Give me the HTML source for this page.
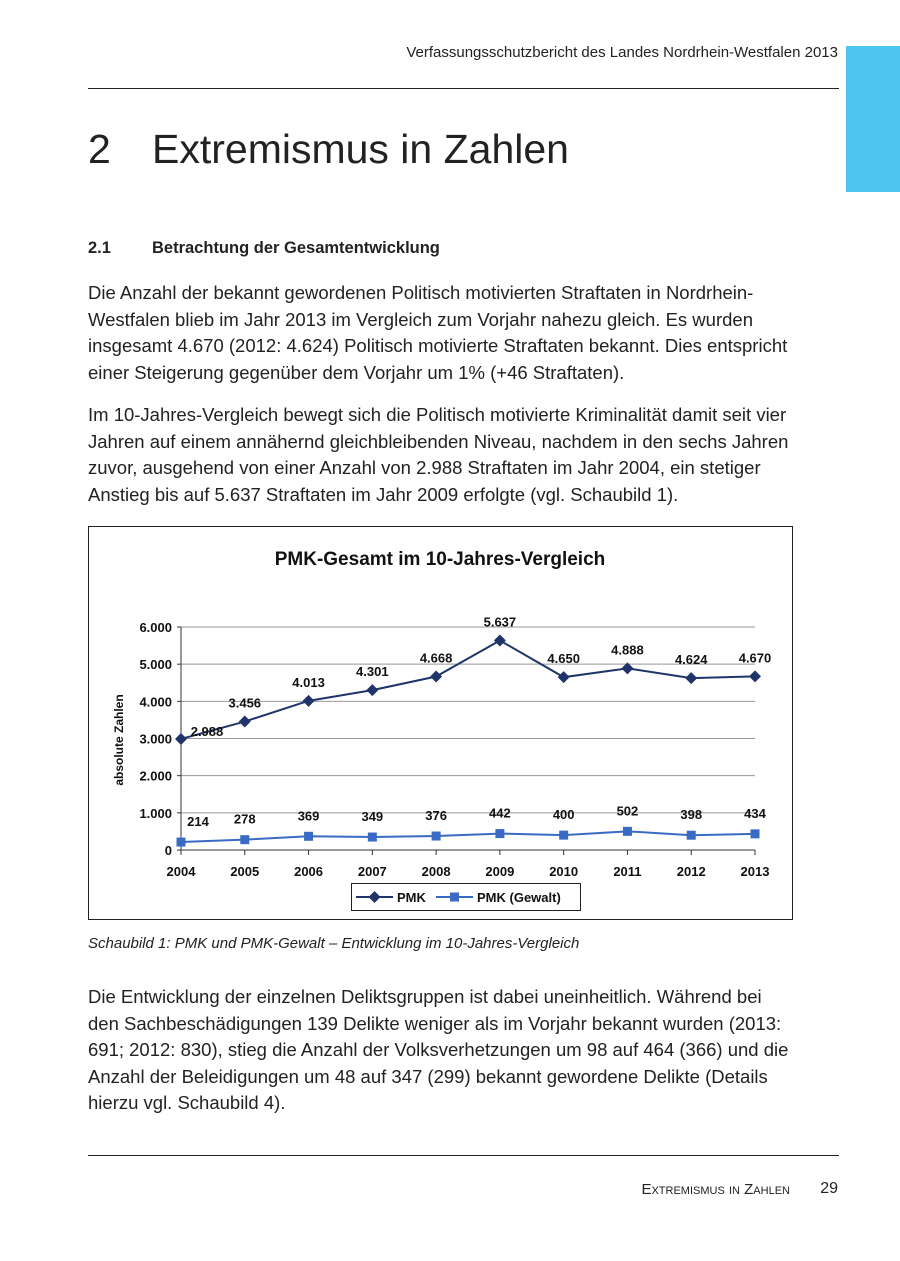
<!DOCTYPE html>
<html><head><meta charset="utf-8"><style>
body{margin:0;width:900px;height:1261px;background:#fff;font-family:"Liberation Sans",sans-serif;color:#222;position:relative;overflow:hidden}
.a{position:absolute;margin:0}
.p{position:absolute;margin:0;left:88px;width:760px;font-size:18.5px;line-height:26.5px;white-space:nowrap}
</style></head><body>
<div class="a" style="right:62px;top:44px;font-size:15px">Verfassungsschutzbericht des Landes Nordrhein-Westfalen 2013</div>
<div class="a" style="left:88px;top:88px;width:751px;height:1px;background:#222"></div>
<div class="a" style="left:846px;top:46px;width:54px;height:146px;background:#4cc5f0"></div>
<div class="a" style="left:88px;top:126px;font-size:41px">2<span style="position:absolute;left:64px;white-space:nowrap">Extremismus in Zahlen</span></div>
<div class="a" style="left:88px;top:239px;font-size:16.5px;font-weight:bold">2.1<span style="position:absolute;left:64px;white-space:nowrap">Betrachtung der Gesamtentwicklung</span></div>
<p class="p" style="top:280px">Die Anzahl der bekannt gewordenen Politisch motivierten Straftaten in Nordrhein-<br>Westfalen blieb im Jahr 2013 im Vergleich zum Vorjahr nahezu gleich. Es wurden<br>insgesamt 4.670 (2012: 4.624) Politisch motivierte Straftaten bekannt. Dies entspricht<br>einer Steigerung gegenüber dem Vorjahr um 1% (+46 Straftaten).</p>
<p class="p" style="top:402px">Im 10-Jahres-Vergleich bewegt sich die Politisch motivierte Kriminalität damit seit vier<br>Jahren auf einem annähernd gleichbleibenden Niveau, nachdem in den sechs Jahren<br>zuvor, ausgehend von einer Anzahl von 2.988 Straftaten im Jahr 2004, ein stetiger<br>Anstieg bis auf 5.637 Straftaten im Jahr 2009 erfolgte (vgl. Schaubild 1).</p>
<svg class="a" style="left:0;top:0" width="900" height="1261" id="chart"></svg>
<div class="a" style="left:88px;top:935px;font-size:15px;font-style:italic">Schaubild 1: PMK und PMK-Gewalt – Entwicklung im 10-Jahres-Vergleich</div>
<p class="p" style="top:984px">Die Entwicklung der einzelnen Deliktsgruppen ist dabei uneinheitlich. Während bei<br>den Sachbeschädigungen 139 Delikte weniger als im Vorjahr bekannt wurden (2013:<br>691; 2012: 830), stieg die Anzahl der Volksverhetzungen um 98 auf 464 (366) und die<br>Anzahl der Beleidigungen um 48 auf 347 (299) bekannt gewordene Delikte (Details<br>hierzu vgl. Schaubild 4).</p>
<div class="a" style="left:88px;top:1155px;width:751px;height:1px;background:#222"></div>
<div class="a" style="right:110px;top:1181px;font-size:15px;font-variant:small-caps">Extremismus in Zahlen</div>
<div class="a" style="right:62px;top:1180px;font-size:16px">29</div>
<script>
const years=['2004','2005','2006','2007','2008','2009','2010','2011','2012','2013'];
const pmk=[2988,3456,4013,4301,4668,5637,4650,4888,4624,4670];
const gewalt=[214,278,369,349,376,442,400,502,398,434];
const yTicks=[0,1000,2000,3000,4000,5000,6000];
const NS='http://www.w3.org/2000/svg';
const svg=document.getElementById('chart');
const x0=181,x1=755,y0=850,y6=627;
const X=i=>x0+(x1-x0)*i/(years.length-1);
const Y=v=>y0-(y0-y6)*v/6000;
const fmt=v=>v>=1000?Math.floor(v/1000)+'.'+String(v%1000).padStart(3,'0'):String(v);
function el(t,a,txt){const e=document.createElementNS(NS,t);for(const k in a)e.setAttribute(k,a[k]);if(txt!=null)e.textContent=txt;svg.appendChild(e);return e;}
let e;
e=el('rect',{x:88.5,y:526.5,width:704,height:393,fill:'none',stroke:'#222'});


e=el('text',{x:440,y:565,'text-anchor':'middle','font-size':19,'font-weight':'bold',fill:'#111'},'PMK-Gesamt im 10-Jahres-Vergleich');


yTicks.forEach(v=>{
 if(v>0){e=el('line',{x1:x0,x2:x1,y1:Y(v),y2:Y(v),stroke:'#999'});
 
 }
 e=el('line',{x1:x0-4,x2:x0,y1:Y(v),y2:Y(v),stroke:'#333'});
 e=el('text',{x:x0-9,y:Y(v)+5,'text-anchor':'end','font-size':13,'font-weight':'bold',fill:'#111'},fmt(v));
 
 
});
el('line',{x1:x0,x2:x0,y1:y6,y2:y0,stroke:'#333'});
el('line',{x1:x0,x2:x1,y1:y0,y2:y0,stroke:'#333'});
e=el('text',{x:0,y:0,transform:'translate(123,740) rotate(-90)','text-anchor':'middle','font-size':12,'font-weight':'bold',fill:'#111'},'absolute Zahlen');


years.forEach((y,i)=>{
 el('line',{x1:X(i),x2:X(i),y1:y0,y2:y0+5,stroke:'#333'});
 e=el('text',{x:X(i),y:876,'text-anchor':'middle','font-size':13,'font-weight':'bold',fill:'#111'},y);
 
 
});
e=el('polyline',{points:pmk.map((v,i)=>X(i)+','+Y(v)).join(' '),fill:'none',stroke:'#1f3468','stroke-width':2});


e=el('polyline',{points:gewalt.map((v,i)=>X(i)+','+Y(v)).join(' '),fill:'none',stroke:'#3a6bc4','stroke-width':2});


pmk.forEach((v,i)=>{
 const cx=X(i),cy=Y(v);
 e=el('polygon',{points:`${cx},${cy-6} ${cx+6},${cy} ${cx},${cy+6} ${cx-6},${cy}`,fill:'#1f3468'});
 
 
 e=el('text',{x:i==0?cx+26:cx,y:i==0?cy-3:cy-14,'text-anchor':'middle','font-size':13,'font-weight':'bold',fill:'#111'},fmt(v));
 
 
});
gewalt.forEach((v,i)=>{
 const cx=X(i),cy=Y(v);
 e=el('rect',{x:cx-4.5,y:cy-4.5,width:9,height:9,fill:'#3a6bc4'});
 
 
 e=el('text',{x:i==0?cx+17:cx,y:cy-16,'text-anchor':'middle','font-size':13,'font-weight':'bold',fill:'#111'},fmt(v));
 
 
});
e=el('rect',{x:351.5,y:883.5,width:229,height:27,fill:'#fff',stroke:'#222'});


el('line',{x1:356,x2:393,y1:897,y2:897,stroke:'#1f3468','stroke-width':2});
el('polygon',{points:'374.5,891 380.5,897 374.5,903 368.5,897',fill:'#1f3468'});
e=el('text',{x:397,y:902,'font-size':13,'font-weight':'bold',fill:'#111'},'PMK');


el('line',{x1:436,x2:473,y1:897,y2:897,stroke:'#3a6bc4','stroke-width':2});
el('rect',{x:450,y:892.5,width:9,height:9,fill:'#3a6bc4'});
e=el('text',{x:477,y:902,'font-size':13,'font-weight':'bold',fill:'#111'},'PMK (Gewalt)');


</script>
</body></html>
